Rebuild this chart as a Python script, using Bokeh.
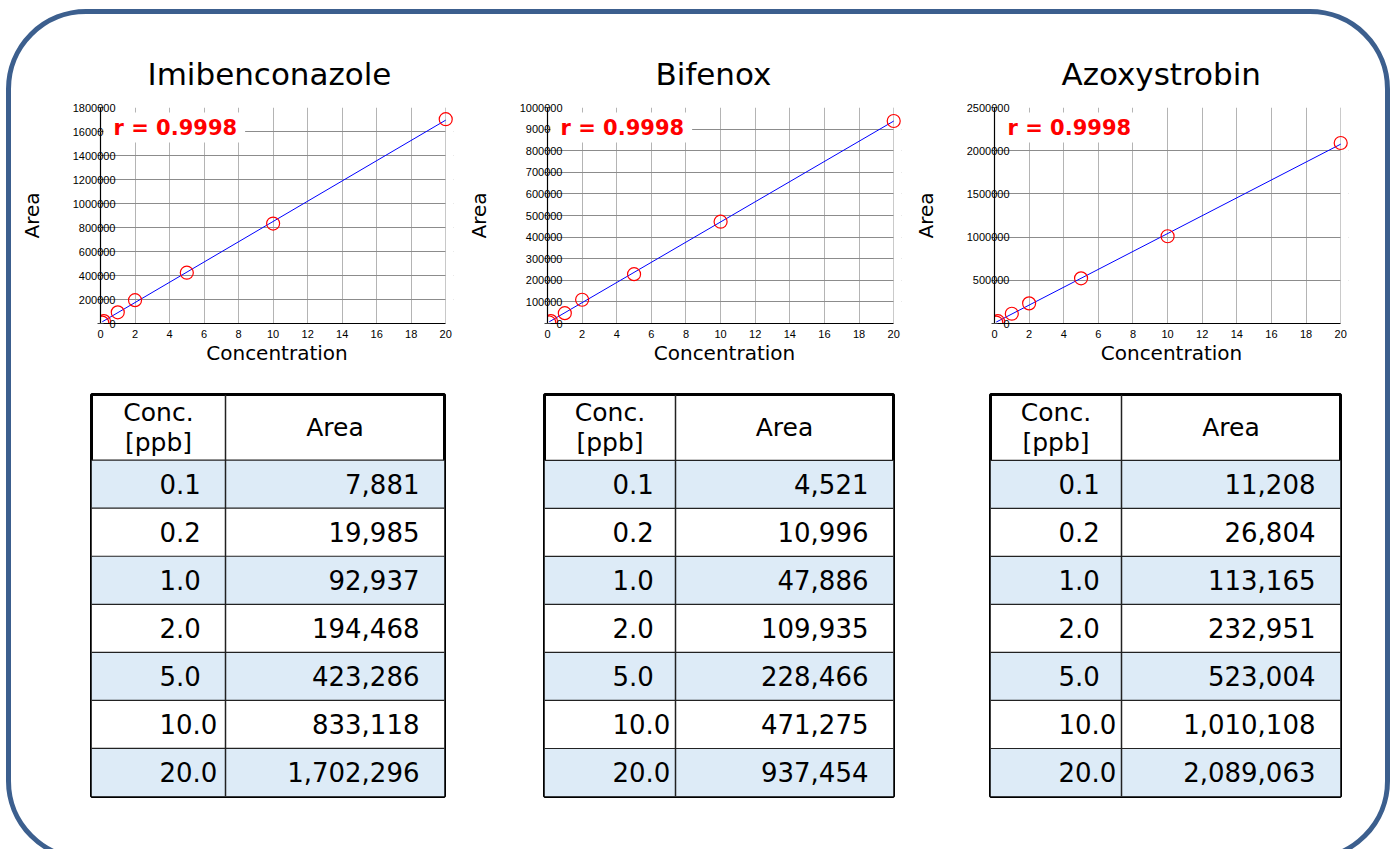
import numpy as np
from bokeh.plotting import figure
from bokeh.layouts import row, column
from bokeh.models import Range1d, FixedTicker, BasicTickFormatter, Label, BoxAnnotation
from bokeh.core.properties import value
from bokeh.embed import file_html
from bokeh.resources import INLINE

# ---------------- data ----------------
compounds = ["Imibenconazole", "Bifenox", "Azoxystrobin"]
conc = [0.1, 0.2, 1.0, 2.0, 5.0, 10.0, 20.0]
conc_labels = ["0.1", "0.2", "1.0", "2.0", "5.0", "10.0", "20.0"]
area_imibenconazole = [7881, 19985, 92937, 194468, 423286, 833118, 1702296]
area_bifenox = [4521, 10996, 47886, 109935, 228466, 471275, 937454]
area_azoxystrobin = [11208, 26804, 113165, 232951, 523004, 1010108, 2089063]
r_values = ["0.9998", "0.9998", "0.9998"]
x_ticks = [0, 2, 4, 6, 8, 10, 12, 14, 16, 18, 20]
y_ticks_imibenconazole = [0, 200000, 400000, 600000, 800000, 1000000, 1200000, 1400000, 1600000, 1800000]
y_ticks_bifenox = [0, 100000, 200000, 300000, 400000, 500000, 600000, 700000, 800000, 900000, 1000000]
y_ticks_azoxystrobin = [0, 500000, 1000000, 1500000, 2000000, 2500000]
header_conc = ["Conc.", "[ppb]"]
header_area = "Area"

FONT = "DejaVu Sans"
TICK_FONT = "Liberation Sans"
BORDER_COLOR = "#3c5f8e"
SHADE = "#ddebf7"

areas_all = [area_imibenconazole, area_bifenox, area_azoxystrobin]
yticks_all = [y_ticks_imibenconazole, y_ticks_bifenox, y_ticks_azoxystrobin]

# layout (pixels): column widths and borders
col_w = [449, 447, 478]
X_PAD = 0.45                     # extra room right of x = 20 so end markers are not clipped
chart_lr = [(89, 7), (87, 6), (87, 37)]
title_offset = [47, 108, 67]
table_lr = [(80, 16), (84, 14), (83, 45)]
table_div = [134, 131, 131]
table_tb = [(12, 404, 60), (14, 403, 59), (14, 403, 59)]


def make_chart(name, areas, r, yticks, width, left, right, toff):
    xmax = x_ticks[-1]
    p = figure(width=width, height=366, x_range=Range1d(x_ticks[0], xmax + X_PAD),
               y_range=Range1d(0, yticks[-1]), output_backend="svg",
               toolbar_location=None, min_border_left=left, min_border_right=right,
               min_border_top=93, min_border_bottom=57, border_fill_color=None,
               background_fill_color="white", outline_line_color=None, title=name)
    p.title.align = "left"
    p.title.offset = toff
    p.title.text_font = FONT
    p.title.text_font_size = "31px"
    p.title.text_font_style = "normal"
    p.title.text_color = "black"
    p.title.standoff = 32

    p.xaxis.ticker = FixedTicker(ticks=x_ticks)
    p.yaxis.ticker = FixedTicker(ticks=yticks)
    p.yaxis.formatter = BasicTickFormatter(use_scientific=False)
    for ax in (p.xaxis[0], p.yaxis[0]):
        ax.axis_line_color = "black"
        ax.axis_line_width = 1.2
        ax.major_label_text_font = TICK_FONT
        ax.major_label_text_font_size = "11px"
        ax.major_label_text_color = "black"
        ax.minor_tick_line_color = None
        ax.axis_label_text_font = FONT
        ax.axis_label_text_font_size = "20px"
        ax.axis_label_text_font_style = "normal"
        ax.axis_label_text_color = "black"
    p.xaxis.axis_label = "Concentration"
    p.yaxis.axis_label = "Area"
    p.xaxis.major_tick_in = 0
    p.xaxis.major_tick_out = 0
    p.xaxis.major_label_standoff = 6
    p.xaxis.axis_label_standoff = 0
    p.xaxis.bounds = (x_ticks[0], xmax)
    p.yaxis.major_tick_in = 3
    p.yaxis.major_tick_out = 3
    p.yaxis.major_tick_line_color = "#444444"
    p.yaxis.major_label_standoff = -18
    p.yaxis.axis_label_standoff = 26

    p.xgrid.grid_line_color = "#b4b4b4"
    p.ygrid.grid_line_color = "#8c8c8c"
    # white mask over the grid beyond x = 20 (the chart area ends there)
    p.add_layout(BoxAnnotation(left=xmax, fill_color="white", fill_alpha=1,
                               line_color=None, level="underlay"))

    fit = np.polyfit(conc, areas, 1)
    xs = [conc[0], conc[-1]]
    p.line(xs, list(np.polyval(fit, xs)), line_color="blue", line_width=1)
    p.scatter(conc, areas, marker="circle", size=13, fill_color=None,
              line_color="red", line_width=1.2)

    lab = Label(x=0, y=yticks[-1], x_offset=3, y_offset=-20, text="r = " + r,
                text_color="red", text_font=FONT, text_font_style="bold",
                text_font_size="21px", text_baseline="middle", text_align="left",
                background_fill_color="white",
                padding=dict(left=10, right=8, top=3, bottom=3))
    p.add_layout(lab)
    return p


def make_table(areas, width, left, right, top, frame_h, bottom, div):
    W = width - left - right
    H = frame_h
    p = figure(width=width, height=top + frame_h + bottom, x_range=Range1d(0, W),
               y_range=Range1d(H, 0), output_backend="svg", toolbar_location=None,
               x_axis_location=None, y_axis_location=None,
               min_border_left=left, min_border_right=right,
               min_border_top=top, min_border_bottom=bottom,
               border_fill_color=None, background_fill_color="white",
               outline_line_color="black", outline_line_width=3)
    p.grid.visible = False
    hh = 66
    n = len(conc_labels)
    rh = (H - hh) / n
    tops = [hh + i * rh for i in range(n)]
    bots = [t + rh for t in tops]
    mids = [t + rh / 2 for t in tops]
    fills = [SHADE if i % 2 == 0 else "white" for i in range(n)]
    p.quad(left=0, right=W, top=tops, bottom=bots, fill_color=fills, line_color=None)
    p.segment(x0=[0] * n, x1=[W] * n, y0=tops, y1=tops, line_color="#222222", line_width=1.2)
    p.segment(x0=[div], x1=[div], y0=[0], y1=[H], line_color="#222222", line_width=1.5)

    p.text(x=[div / 2, div / 2], y=[hh / 2 - 15, hh / 2 + 15], text=header_conc,
           text_align="center", text_baseline="middle", text_font=value(FONT),
           text_font_size="25px", text_color="black")
    p.text(x=[(div + W) / 2], y=[hh / 2], text=[header_area], text_align="center",
           text_baseline="middle", text_font=value(FONT), text_font_size="25px",
           text_color="black")
    p.text(x=[68] * n, y=mids, text=conc_labels, text_align="left",
           text_baseline="middle", text_font=value(FONT), text_font_size="26px",
           text_color="black")
    p.text(x=[W - 25] * n, y=mids, text=[f"{a:,}" for a in areas], text_align="right",
           text_baseline="middle", text_font=value(FONT), text_font_size="26px",
           text_color="black")
    return p


charts = []
tables = []
for i in range(3):
    charts.append(make_chart(compounds[i], areas_all[i], r_values[i], yticks_all[i],
                             col_w[i], chart_lr[i][0], chart_lr[i][1], title_offset[i]))
    t, fh, b = table_tb[i]
    tables.append(make_table(areas_all[i], col_w[i], table_lr[i][0], table_lr[i][1],
                             t, fh, b, table_div[i]))

layout = column(row(*charts), row(*tables), margin=(9, 0, 0, 6),
                styles={"border": "5px solid " + BORDER_COLOR, "border-radius": "80px"})

html = file_html(layout, INLINE, title="Calibration curves")
html = html.replace("<head>", "<head><style>html,body{overflow:hidden;margin:0;padding:0}</style>", 1)
open("out.html", "w").write(html)
